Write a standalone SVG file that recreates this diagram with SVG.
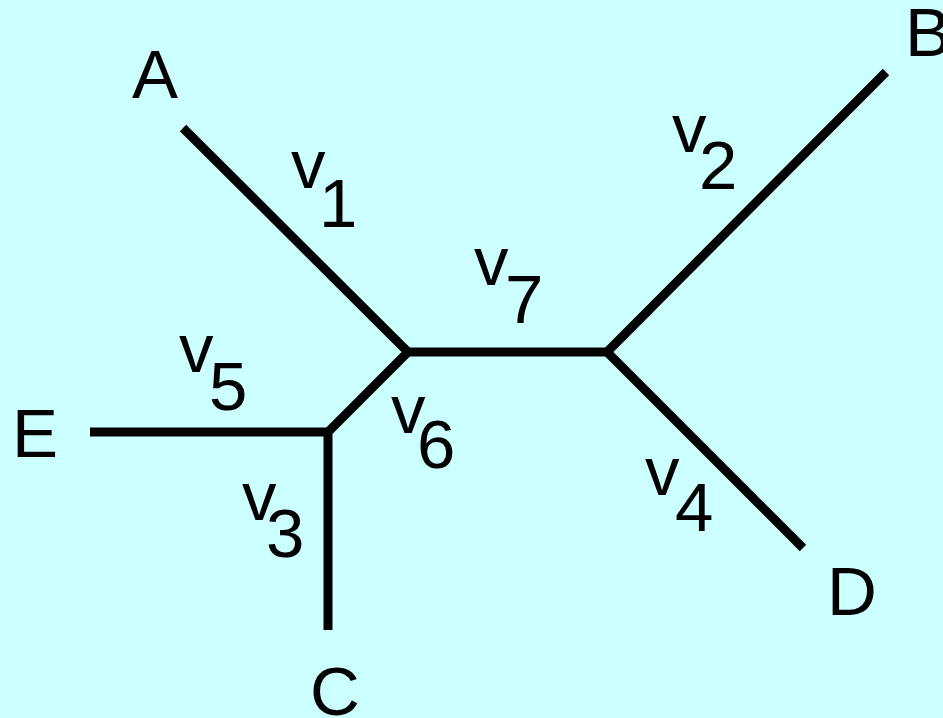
<svg xmlns="http://www.w3.org/2000/svg" width="943" height="718" viewBox="0 0 943 718">
  <style>
    .edge { fill: none; stroke: #000; stroke-width: 9; stroke-linecap: butt; stroke-linejoin: miter; }
    .lbl { font-family: "Liberation Sans", Arial, sans-serif; font-size: 69px; fill: #000; }
  </style>
  <rect x="0" y="0" width="943" height="718" fill="#CCFFFF"/>
  <g id="connectors">
    <path class="edge" d="M183,128 L408,352 L328,432 L328,630"/>
    <path class="edge" d="M90,432 L328,432"/>
    <path class="edge" d="M408,352 L607,352"/>
    <path class="edge" d="M886,72 L607,352 L803,548"/>
  </g>
  <g id="edge-labels">
    <text class="lbl"><tspan x="291" y="188">v</tspan><tspan x="319" y="227">1</tspan></text>
    <text class="lbl"><tspan x="672" y="152">v</tspan><tspan x="699" y="189">2</tspan></text>
    <text class="lbl"><tspan x="242" y="520">v</tspan><tspan x="266" y="557">3</tspan></text>
    <text class="lbl"><tspan x="645" y="495">v</tspan><tspan x="675" y="531">4</tspan></text>
    <text class="lbl"><tspan x="179" y="372">v</tspan><tspan x="209" y="410">5</tspan></text>
    <text class="lbl"><tspan x="391" y="433">v</tspan><tspan x="417" y="468">6</tspan></text>
    <text class="lbl"><tspan x="474" y="285">v</tspan><tspan x="505" y="323">7</tspan></text>
  </g>
  <g id="node-A"><text class="lbl" x="132" y="98">A</text></g>
  <g id="node-B"><text class="lbl" x="905" y="56">B</text></g>
  <g id="node-C"><text class="lbl" x="310" y="715">C</text></g>
  <g id="node-D"><text class="lbl" x="827" y="615">D</text></g>
  <g id="node-E"><text class="lbl" x="12" y="457">E</text></g>
</svg>
